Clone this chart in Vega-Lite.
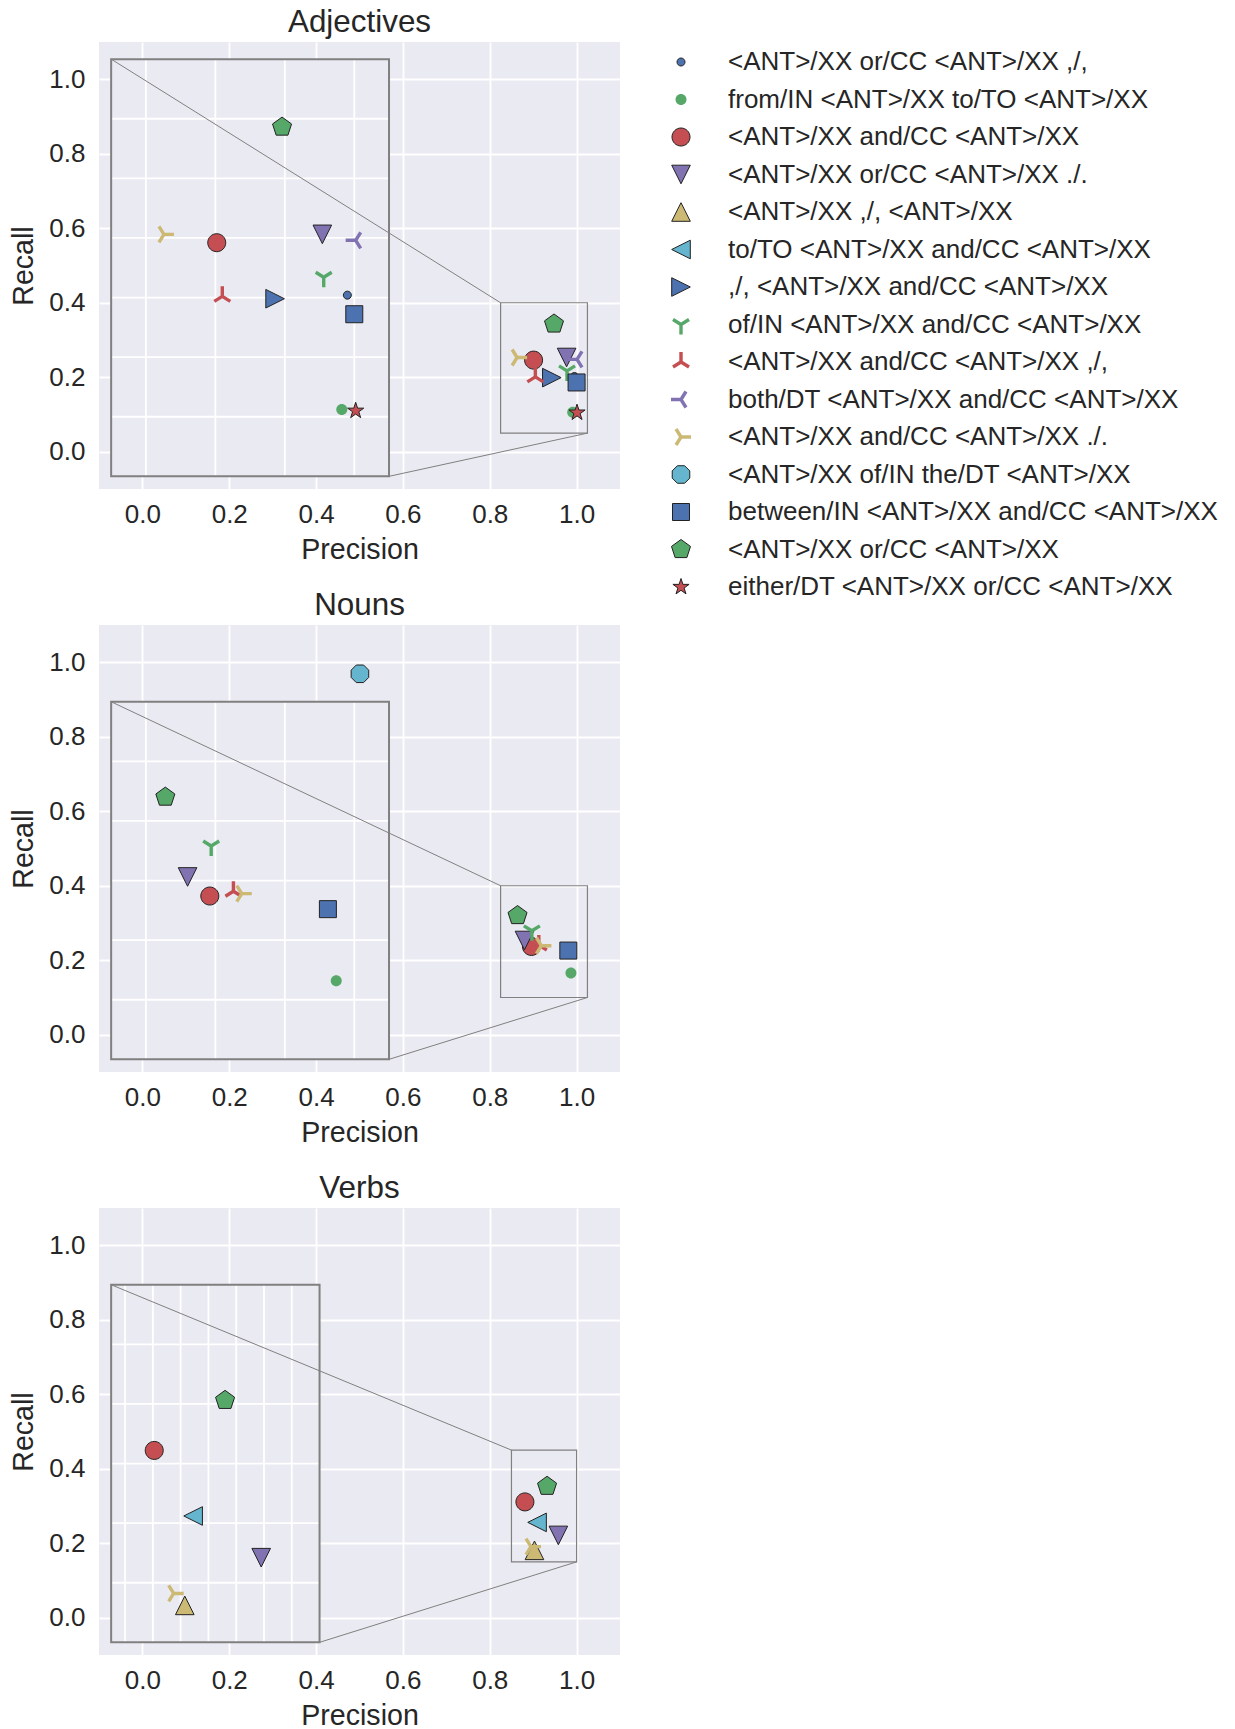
{
  "$schema": "https://vega.github.io/schema/vega-lite/v6.json",
  "padding": {"left": 9, "top": 6, "right": 5, "bottom": 5},
  "spacing": 25,
  "config": {
    "font": "Liberation Sans",
    "view": {"fill": "#EAEAF2", "stroke": null},
    "axis": {"labelFontSize": 26, "labelColor": "#262626", "titleFontSize": 28.6, "titleColor": "#262626", "titleFontWeight": "normal", "domain": false, "ticks": false, "gridColor": "#FFFFFF", "gridWidth": 1.8, "gridOpacity": 1, "labelFlush": false, "labelOverlap": false},
    "axisX": {"labelPadding": 12, "titlePadding": 8},
    "axisY": {"labelPadding": 14, "titlePadding": 10},
    "title": {"fontSize": 31.4, "fontWeight": "normal", "color": "#262626", "anchor": "middle", "offset": 4}
  },
  "datasets": {
    "adjectives": [
      {"series": "<ANT>/XX or/CC <ANT>/XX ,/,", "precision": 0.995, "recall": 0.202},
      {"series": "from/IN <ANT>/XX to/TO <ANT>/XX", "precision": 0.991, "recall": 0.106},
      {"series": "<ANT>/XX and/CC <ANT>/XX", "precision": 0.901, "recall": 0.246},
      {"series": "<ANT>/XX or/CC <ANT>/XX ./.", "precision": 0.977, "recall": 0.253},
      {"series": ",/, <ANT>/XX and/CC <ANT>/XX", "precision": 0.943, "recall": 0.199},
      {"series": "of/IN <ANT>/XX and/CC <ANT>/XX", "precision": 0.978, "recall": 0.217},
      {"series": "<ANT>/XX and/CC <ANT>/XX ,/,", "precision": 0.905, "recall": 0.201},
      {"series": "both/DT <ANT>/XX and/CC <ANT>/XX", "precision": 1.001, "recall": 0.248},
      {"series": "<ANT>/XX and/CC <ANT>/XX ./.", "precision": 0.863, "recall": 0.253},
      {"series": "between/IN <ANT>/XX and/CC <ANT>/XX", "precision": 1.0, "recall": 0.186},
      {"series": "<ANT>/XX or/CC <ANT>/XX", "precision": 0.948, "recall": 0.343},
      {"series": "either/DT <ANT>/XX or/CC <ANT>/XX", "precision": 1.001, "recall": 0.105}
    ],
    "nouns": [
      {"series": "from/IN <ANT>/XX to/TO <ANT>/XX", "precision": 0.987, "recall": 0.166},
      {"series": "<ANT>/XX and/CC <ANT>/XX", "precision": 0.896, "recall": 0.237},
      {"series": "<ANT>/XX or/CC <ANT>/XX ./.", "precision": 0.880, "recall": 0.253},
      {"series": "of/IN <ANT>/XX and/CC <ANT>/XX", "precision": 0.897, "recall": 0.279},
      {"series": "<ANT>/XX and/CC <ANT>/XX ,/,", "precision": 0.913, "recall": 0.241},
      {"series": "<ANT>/XX and/CC <ANT>/XX ./.", "precision": 0.919, "recall": 0.239},
      {"series": "<ANT>/XX of/IN the/DT <ANT>/XX", "precision": 0.501, "recall": 0.969},
      {"series": "between/IN <ANT>/XX and/CC <ANT>/XX", "precision": 0.981, "recall": 0.226},
      {"series": "<ANT>/XX or/CC <ANT>/XX", "precision": 0.864, "recall": 0.320}
    ],
    "verbs": [
      {"series": "<ANT>/XX and/CC <ANT>/XX", "precision": 0.881, "recall": 0.311},
      {"series": "<ANT>/XX or/CC <ANT>/XX ./.", "precision": 0.958, "recall": 0.221},
      {"series": "<ANT>/XX ,/, <ANT>/XX", "precision": 0.903, "recall": 0.181},
      {"series": "to/TO <ANT>/XX and/CC <ANT>/XX", "precision": 0.909, "recall": 0.256},
      {"series": "<ANT>/XX and/CC <ANT>/XX ./.", "precision": 0.895, "recall": 0.191},
      {"series": "<ANT>/XX or/CC <ANT>/XX", "precision": 0.932, "recall": 0.353}
    ]
  },
  "vconcat": [
    {
      "title": "Adjectives",
      "width": 521, "height": 447,
      "resolve": {"scale": {"x": "independent", "y": "independent"}},
      "layer": [
        {"data": {"name": "adjectives"},
         "mark": {"type": "point", "filled": true, "opacity": 1, "size": 400, "strokeWidth": 1},
         "encoding": {
           "x": {"field": "precision", "type": "quantitative", "scale": {"domain": [-0.1, 1.1], "nice": false, "zero": false}, "axis": {"title": "Precision", "values": [0, 0.2, 0.4, 0.6, 0.8, 1.0], "format": ".1f"}},
           "y": {"field": "recall", "type": "quantitative", "scale": {"domain": [-0.1, 1.1], "nice": false, "zero": false}, "axis": {"title": "Recall", "values": [0, 0.2, 0.4, 0.6, 0.8, 1.0], "format": ".1f"}},
           "shape": {"field": "series", "type": "nominal", "scale": {"domain": ["<ANT>/XX or/CC <ANT>/XX ,/,", "from/IN <ANT>/XX to/TO <ANT>/XX", "<ANT>/XX and/CC <ANT>/XX", "<ANT>/XX or/CC <ANT>/XX ./.", "<ANT>/XX ,/, <ANT>/XX", "to/TO <ANT>/XX and/CC <ANT>/XX", ",/, <ANT>/XX and/CC <ANT>/XX", "of/IN <ANT>/XX and/CC <ANT>/XX", "<ANT>/XX and/CC <ANT>/XX ,/,", "both/DT <ANT>/XX and/CC <ANT>/XX", "<ANT>/XX and/CC <ANT>/XX ./.", "<ANT>/XX of/IN the/DT <ANT>/XX", "between/IN <ANT>/XX and/CC <ANT>/XX", "<ANT>/XX or/CC <ANT>/XX", "either/DT <ANT>/XX or/CC <ANT>/XX"], "range": ["M0.4,0A0.4,0.4,0,1,1,-0.4,0A0.4,0.4,0,1,1,0.4,0Z", "M0.55,0A0.55,0.55,0,1,1,-0.55,0A0.55,0.55,0,1,1,0.55,0Z", "M0.9,0A0.9,0.9,0,1,1,-0.9,0A0.9,0.9,0,1,1,0.9,0Z", "M-0.93,-0.93L0.93,-0.93L0,0.93Z", "M0,-0.93L0.93,0.93L-0.93,0.93Z", "M-0.93,0L0.93,-0.93L0.93,0.93Z", "M0.93,0L-0.93,0.93L-0.93,-0.93Z", "M-0.17,-0.09L-0.17,1L0.17,1L0.17,-0.09ZM0.014,0.192L0.89,-0.356L0.71,-0.644L-0.166,-0.097ZM0.166,-0.097L-0.71,-0.644L-0.89,-0.356L-0.014,0.192Z", "M0.17,0.09L0.17,-1L-0.17,-1L-0.17,0.09ZM-0.014,-0.192L-0.89,0.356L-0.71,0.644L0.166,0.097ZM-0.166,0.097L0.71,0.644L0.89,0.356L0.014,-0.192Z", "M0.09,-0.17L-1,-0.17L-1,0.17L0.09,0.17ZM-0.192,0.014L0.356,0.89L0.644,0.71L0.097,-0.166ZM0.097,0.166L0.644,-0.71L0.356,-0.89L-0.192,-0.014Z", "M-0.09,0.17L1,0.17L1,-0.17L-0.09,-0.17ZM0.192,-0.014L-0.356,-0.89L-0.644,-0.71L-0.097,0.166ZM-0.097,-0.166L-0.644,0.71L-0.356,0.89L0.192,0.014Z", "M0.878,-0.364L0.364,-0.878L-0.364,-0.878L-0.878,-0.364L-0.878,0.364L-0.364,0.878L0.364,0.878L0.878,0.364Z", "M-0.85,-0.85L0.85,-0.85L0.85,0.85L-0.85,0.85Z", "M0,-1L0.951,-0.309L0.588,0.809L-0.588,0.809L-0.951,-0.309Z", "M0,-0.85L0.191,-0.263L0.808,-0.263L0.309,0.1L0.5,0.688L0,0.325L-0.5,0.688L-0.309,0.1L-0.808,-0.263L-0.191,-0.263Z"]}, "legend": {"title": null, "orient": "none", "legendX": 569, "legendY": 7, "labelFontSize": 26, "labelLimit": 700, "labelColor": "#262626", "labelFont": "Liberation Sans", "rowPadding": 11.5, "labelOffset": 34, "symbolSize": 400, "symbolStrokeWidth": 1, "padding": 0}},
           "fill": {"field": "series", "type": "nominal", "scale": {"domain": ["<ANT>/XX or/CC <ANT>/XX ,/,", "from/IN <ANT>/XX to/TO <ANT>/XX", "<ANT>/XX and/CC <ANT>/XX", "<ANT>/XX or/CC <ANT>/XX ./.", "<ANT>/XX ,/, <ANT>/XX", "to/TO <ANT>/XX and/CC <ANT>/XX", ",/, <ANT>/XX and/CC <ANT>/XX", "of/IN <ANT>/XX and/CC <ANT>/XX", "<ANT>/XX and/CC <ANT>/XX ,/,", "both/DT <ANT>/XX and/CC <ANT>/XX", "<ANT>/XX and/CC <ANT>/XX ./.", "<ANT>/XX of/IN the/DT <ANT>/XX", "between/IN <ANT>/XX and/CC <ANT>/XX", "<ANT>/XX or/CC <ANT>/XX", "either/DT <ANT>/XX or/CC <ANT>/XX"], "range": ["#4C72B0", "#55A868", "#C44E52", "#8172B2", "#CCB974", "#64B5CD", "#4C72B0", "#55A868", "#C44E52", "#8172B2", "#CCB974", "#64B5CD", "#4C72B0", "#55A868", "#C44E52"]}},
           "stroke": {"field": "series", "type": "nominal", "scale": {"domain": ["<ANT>/XX or/CC <ANT>/XX ,/,", "from/IN <ANT>/XX to/TO <ANT>/XX", "<ANT>/XX and/CC <ANT>/XX", "<ANT>/XX or/CC <ANT>/XX ./.", "<ANT>/XX ,/, <ANT>/XX", "to/TO <ANT>/XX and/CC <ANT>/XX", ",/, <ANT>/XX and/CC <ANT>/XX", "of/IN <ANT>/XX and/CC <ANT>/XX", "<ANT>/XX and/CC <ANT>/XX ,/,", "both/DT <ANT>/XX and/CC <ANT>/XX", "<ANT>/XX and/CC <ANT>/XX ./.", "<ANT>/XX of/IN the/DT <ANT>/XX", "between/IN <ANT>/XX and/CC <ANT>/XX", "<ANT>/XX or/CC <ANT>/XX", "either/DT <ANT>/XX or/CC <ANT>/XX"], "range": ["#222222", "transparent", "#222222", "#222222", "#222222", "#222222", "#222222", "transparent", "transparent", "transparent", "transparent", "#222222", "#222222", "#222222", "#222222"]}}
         }},
        {"data": {"values": [{"x0": 0.825, "x1": 1.025, "y0": 0.05, "y1": 0.40}]},
         "mark": {"type": "rect", "filled": false, "stroke": "#808080", "strokeWidth": 1.2},
         "encoding": {
           "x": {"field": "x0", "type": "quantitative", "scale": {"domain": [-0.1, 1.1], "nice": false, "zero": false}, "axis": null},
           "x2": {"field": "x1"},
           "y": {"field": "y0", "type": "quantitative", "scale": {"domain": [-0.1, 1.1], "nice": false, "zero": false}, "axis": null},
           "y2": {"field": "y1"}
         }},
        {"data": {"values": [{"x0": 0.825, "x1": 1.025, "y0": 0.05, "y1": 0.40}]},
         "mark": {"type": "rect", "fill": "#EAEAF2", "stroke": null},
         "encoding": {
           "x": {"field": "x0", "type": "quantitative", "scale": {"domain": [0.81625, 1.19125], "nice": false, "zero": false}, "axis": null},
           "x2": {"field": "x1"},
           "y": {"field": "y0", "type": "quantitative", "scale": {"domain": [0.039375, 0.414375], "nice": false, "zero": false}, "axis": null},
           "y2": {"field": "y1"}
         }},
        {"data": {"values": [{"v": 0.85}, {"v": 0.9}, {"v": 0.95}, {"v": 1.0}]},
         "mark": {"type": "rule", "color": "#FFFFFF", "strokeWidth": 1.8},
         "encoding": {
           "x": {"field": "v", "type": "quantitative", "scale": {"domain": [0.81625, 1.19125], "nice": false, "zero": false}, "axis": null},
           "y": {"datum": 0.05, "type": "quantitative", "scale": {"domain": [0.039375, 0.414375], "nice": false, "zero": false}, "axis": null},
           "y2": {"datum": 0.40}
         }},
        {"data": {"values": [{"v": 0.10}, {"v": 0.15}, {"v": 0.20}, {"v": 0.25}, {"v": 0.30}, {"v": 0.35}]},
         "mark": {"type": "rule", "color": "#FFFFFF", "strokeWidth": 1.8},
         "encoding": {
           "y": {"field": "v", "type": "quantitative", "scale": {"domain": [0.039375, 0.414375], "nice": false, "zero": false}, "axis": null},
           "x": {"datum": 0.825, "type": "quantitative", "scale": {"domain": [0.81625, 1.19125], "nice": false, "zero": false}, "axis": null},
           "x2": {"datum": 1.025}
         }},
        {"data": {"name": "adjectives"},
         "transform": [{"filter": {"and": [{"field": "precision", "range": [0.82, 1.03]}, {"field": "recall", "range": [0.04, 0.46]}]}}],
         "mark": {"type": "point", "filled": true, "opacity": 1, "size": 400, "strokeWidth": 1},
         "encoding": {
           "x": {"field": "precision", "type": "quantitative", "scale": {"domain": [0.81625, 1.19125], "nice": false, "zero": false}, "axis": null},
           "y": {"field": "recall", "type": "quantitative", "scale": {"domain": [0.039375, 0.414375], "nice": false, "zero": false}, "axis": null},
           "shape": {"field": "series", "type": "nominal", "scale": {"domain": ["<ANT>/XX or/CC <ANT>/XX ,/,", "from/IN <ANT>/XX to/TO <ANT>/XX", "<ANT>/XX and/CC <ANT>/XX", "<ANT>/XX or/CC <ANT>/XX ./.", "<ANT>/XX ,/, <ANT>/XX", "to/TO <ANT>/XX and/CC <ANT>/XX", ",/, <ANT>/XX and/CC <ANT>/XX", "of/IN <ANT>/XX and/CC <ANT>/XX", "<ANT>/XX and/CC <ANT>/XX ,/,", "both/DT <ANT>/XX and/CC <ANT>/XX", "<ANT>/XX and/CC <ANT>/XX ./.", "<ANT>/XX of/IN the/DT <ANT>/XX", "between/IN <ANT>/XX and/CC <ANT>/XX", "<ANT>/XX or/CC <ANT>/XX", "either/DT <ANT>/XX or/CC <ANT>/XX"], "range": ["M0.4,0A0.4,0.4,0,1,1,-0.4,0A0.4,0.4,0,1,1,0.4,0Z", "M0.55,0A0.55,0.55,0,1,1,-0.55,0A0.55,0.55,0,1,1,0.55,0Z", "M0.9,0A0.9,0.9,0,1,1,-0.9,0A0.9,0.9,0,1,1,0.9,0Z", "M-0.93,-0.93L0.93,-0.93L0,0.93Z", "M0,-0.93L0.93,0.93L-0.93,0.93Z", "M-0.93,0L0.93,-0.93L0.93,0.93Z", "M0.93,0L-0.93,0.93L-0.93,-0.93Z", "M-0.17,-0.09L-0.17,1L0.17,1L0.17,-0.09ZM0.014,0.192L0.89,-0.356L0.71,-0.644L-0.166,-0.097ZM0.166,-0.097L-0.71,-0.644L-0.89,-0.356L-0.014,0.192Z", "M0.17,0.09L0.17,-1L-0.17,-1L-0.17,0.09ZM-0.014,-0.192L-0.89,0.356L-0.71,0.644L0.166,0.097ZM-0.166,0.097L0.71,0.644L0.89,0.356L0.014,-0.192Z", "M0.09,-0.17L-1,-0.17L-1,0.17L0.09,0.17ZM-0.192,0.014L0.356,0.89L0.644,0.71L0.097,-0.166ZM0.097,0.166L0.644,-0.71L0.356,-0.89L-0.192,-0.014Z", "M-0.09,0.17L1,0.17L1,-0.17L-0.09,-0.17ZM0.192,-0.014L-0.356,-0.89L-0.644,-0.71L-0.097,0.166ZM-0.097,-0.166L-0.644,0.71L-0.356,0.89L0.192,0.014Z", "M0.878,-0.364L0.364,-0.878L-0.364,-0.878L-0.878,-0.364L-0.878,0.364L-0.364,0.878L0.364,0.878L0.878,0.364Z", "M-0.85,-0.85L0.85,-0.85L0.85,0.85L-0.85,0.85Z", "M0,-1L0.951,-0.309L0.588,0.809L-0.588,0.809L-0.951,-0.309Z", "M0,-0.85L0.191,-0.263L0.808,-0.263L0.309,0.1L0.5,0.688L0,0.325L-0.5,0.688L-0.309,0.1L-0.808,-0.263L-0.191,-0.263Z"]}},
           "fill": {"field": "series", "type": "nominal", "scale": {"domain": ["<ANT>/XX or/CC <ANT>/XX ,/,", "from/IN <ANT>/XX to/TO <ANT>/XX", "<ANT>/XX and/CC <ANT>/XX", "<ANT>/XX or/CC <ANT>/XX ./.", "<ANT>/XX ,/, <ANT>/XX", "to/TO <ANT>/XX and/CC <ANT>/XX", ",/, <ANT>/XX and/CC <ANT>/XX", "of/IN <ANT>/XX and/CC <ANT>/XX", "<ANT>/XX and/CC <ANT>/XX ,/,", "both/DT <ANT>/XX and/CC <ANT>/XX", "<ANT>/XX and/CC <ANT>/XX ./.", "<ANT>/XX of/IN the/DT <ANT>/XX", "between/IN <ANT>/XX and/CC <ANT>/XX", "<ANT>/XX or/CC <ANT>/XX", "either/DT <ANT>/XX or/CC <ANT>/XX"], "range": ["#4C72B0", "#55A868", "#C44E52", "#8172B2", "#CCB974", "#64B5CD", "#4C72B0", "#55A868", "#C44E52", "#8172B2", "#CCB974", "#64B5CD", "#4C72B0", "#55A868", "#C44E52"]}},
           "stroke": {"field": "series", "type": "nominal", "scale": {"domain": ["<ANT>/XX or/CC <ANT>/XX ,/,", "from/IN <ANT>/XX to/TO <ANT>/XX", "<ANT>/XX and/CC <ANT>/XX", "<ANT>/XX or/CC <ANT>/XX ./.", "<ANT>/XX ,/, <ANT>/XX", "to/TO <ANT>/XX and/CC <ANT>/XX", ",/, <ANT>/XX and/CC <ANT>/XX", "of/IN <ANT>/XX and/CC <ANT>/XX", "<ANT>/XX and/CC <ANT>/XX ,/,", "both/DT <ANT>/XX and/CC <ANT>/XX", "<ANT>/XX and/CC <ANT>/XX ./.", "<ANT>/XX of/IN the/DT <ANT>/XX", "between/IN <ANT>/XX and/CC <ANT>/XX", "<ANT>/XX or/CC <ANT>/XX", "either/DT <ANT>/XX or/CC <ANT>/XX"], "range": ["#222222", "transparent", "#222222", "#222222", "#222222", "#222222", "#222222", "transparent", "transparent", "transparent", "transparent", "#222222", "#222222", "#222222", "#222222"]}}
         }},
        {"data": {"values": [{"x0": 0.825, "x1": 1.025, "y0": 0.05, "y1": 0.40}]},
         "mark": {"type": "rect", "filled": false, "stroke": "#808080", "strokeWidth": 2},
         "encoding": {
           "x": {"field": "x0", "type": "quantitative", "scale": {"domain": [0.81625, 1.19125], "nice": false, "zero": false}, "axis": null},
           "x2": {"field": "x1"},
           "y": {"field": "y0", "type": "quantitative", "scale": {"domain": [0.039375, 0.414375], "nice": false, "zero": false}, "axis": null},
           "y2": {"field": "y1"}
         }},
        {"data": {"values": [{"x": -0.072, "y": 1.054, "x2": 0.825, "y2": 0.40}, {"x": 0.568, "y": -0.066, "x2": 1.025, "y2": 0.05}]},
         "mark": {"type": "rule", "color": "#808080", "strokeWidth": 1},
         "encoding": {
           "x": {"field": "x", "type": "quantitative", "scale": {"domain": [-0.1, 1.1], "nice": false, "zero": false}, "axis": null},
           "y": {"field": "y", "type": "quantitative", "scale": {"domain": [-0.1, 1.1], "nice": false, "zero": false}, "axis": null},
           "x2": {"field": "x2"},
           "y2": {"field": "y2"}
         }}
      ]
    },
    {
      "title": "Nouns",
      "width": 521, "height": 447,
      "resolve": {"scale": {"x": "independent", "y": "independent"}},
      "layer": [
        {"data": {"name": "nouns"},
         "mark": {"type": "point", "filled": true, "opacity": 1, "size": 400, "strokeWidth": 1},
         "encoding": {
           "x": {"field": "precision", "type": "quantitative", "scale": {"domain": [-0.1, 1.1], "nice": false, "zero": false}, "axis": {"title": "Precision", "values": [0, 0.2, 0.4, 0.6, 0.8, 1.0], "format": ".1f"}},
           "y": {"field": "recall", "type": "quantitative", "scale": {"domain": [-0.1, 1.1], "nice": false, "zero": false}, "axis": {"title": "Recall", "values": [0, 0.2, 0.4, 0.6, 0.8, 1.0], "format": ".1f"}},
           "shape": {"field": "series", "type": "nominal", "scale": {"domain": ["<ANT>/XX or/CC <ANT>/XX ,/,", "from/IN <ANT>/XX to/TO <ANT>/XX", "<ANT>/XX and/CC <ANT>/XX", "<ANT>/XX or/CC <ANT>/XX ./.", "<ANT>/XX ,/, <ANT>/XX", "to/TO <ANT>/XX and/CC <ANT>/XX", ",/, <ANT>/XX and/CC <ANT>/XX", "of/IN <ANT>/XX and/CC <ANT>/XX", "<ANT>/XX and/CC <ANT>/XX ,/,", "both/DT <ANT>/XX and/CC <ANT>/XX", "<ANT>/XX and/CC <ANT>/XX ./.", "<ANT>/XX of/IN the/DT <ANT>/XX", "between/IN <ANT>/XX and/CC <ANT>/XX", "<ANT>/XX or/CC <ANT>/XX", "either/DT <ANT>/XX or/CC <ANT>/XX"], "range": ["M0.4,0A0.4,0.4,0,1,1,-0.4,0A0.4,0.4,0,1,1,0.4,0Z", "M0.55,0A0.55,0.55,0,1,1,-0.55,0A0.55,0.55,0,1,1,0.55,0Z", "M0.9,0A0.9,0.9,0,1,1,-0.9,0A0.9,0.9,0,1,1,0.9,0Z", "M-0.93,-0.93L0.93,-0.93L0,0.93Z", "M0,-0.93L0.93,0.93L-0.93,0.93Z", "M-0.93,0L0.93,-0.93L0.93,0.93Z", "M0.93,0L-0.93,0.93L-0.93,-0.93Z", "M-0.17,-0.09L-0.17,1L0.17,1L0.17,-0.09ZM0.014,0.192L0.89,-0.356L0.71,-0.644L-0.166,-0.097ZM0.166,-0.097L-0.71,-0.644L-0.89,-0.356L-0.014,0.192Z", "M0.17,0.09L0.17,-1L-0.17,-1L-0.17,0.09ZM-0.014,-0.192L-0.89,0.356L-0.71,0.644L0.166,0.097ZM-0.166,0.097L0.71,0.644L0.89,0.356L0.014,-0.192Z", "M0.09,-0.17L-1,-0.17L-1,0.17L0.09,0.17ZM-0.192,0.014L0.356,0.89L0.644,0.71L0.097,-0.166ZM0.097,0.166L0.644,-0.71L0.356,-0.89L-0.192,-0.014Z", "M-0.09,0.17L1,0.17L1,-0.17L-0.09,-0.17ZM0.192,-0.014L-0.356,-0.89L-0.644,-0.71L-0.097,0.166ZM-0.097,-0.166L-0.644,0.71L-0.356,0.89L0.192,0.014Z", "M0.878,-0.364L0.364,-0.878L-0.364,-0.878L-0.878,-0.364L-0.878,0.364L-0.364,0.878L0.364,0.878L0.878,0.364Z", "M-0.85,-0.85L0.85,-0.85L0.85,0.85L-0.85,0.85Z", "M0,-1L0.951,-0.309L0.588,0.809L-0.588,0.809L-0.951,-0.309Z", "M0,-0.85L0.191,-0.263L0.808,-0.263L0.309,0.1L0.5,0.688L0,0.325L-0.5,0.688L-0.309,0.1L-0.808,-0.263L-0.191,-0.263Z"]}},
           "fill": {"field": "series", "type": "nominal", "scale": {"domain": ["<ANT>/XX or/CC <ANT>/XX ,/,", "from/IN <ANT>/XX to/TO <ANT>/XX", "<ANT>/XX and/CC <ANT>/XX", "<ANT>/XX or/CC <ANT>/XX ./.", "<ANT>/XX ,/, <ANT>/XX", "to/TO <ANT>/XX and/CC <ANT>/XX", ",/, <ANT>/XX and/CC <ANT>/XX", "of/IN <ANT>/XX and/CC <ANT>/XX", "<ANT>/XX and/CC <ANT>/XX ,/,", "both/DT <ANT>/XX and/CC <ANT>/XX", "<ANT>/XX and/CC <ANT>/XX ./.", "<ANT>/XX of/IN the/DT <ANT>/XX", "between/IN <ANT>/XX and/CC <ANT>/XX", "<ANT>/XX or/CC <ANT>/XX", "either/DT <ANT>/XX or/CC <ANT>/XX"], "range": ["#4C72B0", "#55A868", "#C44E52", "#8172B2", "#CCB974", "#64B5CD", "#4C72B0", "#55A868", "#C44E52", "#8172B2", "#CCB974", "#64B5CD", "#4C72B0", "#55A868", "#C44E52"]}},
           "stroke": {"field": "series", "type": "nominal", "scale": {"domain": ["<ANT>/XX or/CC <ANT>/XX ,/,", "from/IN <ANT>/XX to/TO <ANT>/XX", "<ANT>/XX and/CC <ANT>/XX", "<ANT>/XX or/CC <ANT>/XX ./.", "<ANT>/XX ,/, <ANT>/XX", "to/TO <ANT>/XX and/CC <ANT>/XX", ",/, <ANT>/XX and/CC <ANT>/XX", "of/IN <ANT>/XX and/CC <ANT>/XX", "<ANT>/XX and/CC <ANT>/XX ,/,", "both/DT <ANT>/XX and/CC <ANT>/XX", "<ANT>/XX and/CC <ANT>/XX ./.", "<ANT>/XX of/IN the/DT <ANT>/XX", "between/IN <ANT>/XX and/CC <ANT>/XX", "<ANT>/XX or/CC <ANT>/XX", "either/DT <ANT>/XX or/CC <ANT>/XX"], "range": ["#222222", "transparent", "#222222", "#222222", "#222222", "#222222", "#222222", "transparent", "transparent", "transparent", "transparent", "#222222", "#222222", "#222222", "#222222"]}}
         }},
        {"data": {"values": [{"x0": 0.825, "x1": 1.025, "y0": 0.10, "y1": 0.40}]},
         "mark": {"type": "rect", "filled": false, "stroke": "#808080", "strokeWidth": 1.2},
         "encoding": {
           "x": {"field": "x0", "type": "quantitative", "scale": {"domain": [-0.1, 1.1], "nice": false, "zero": false}, "axis": null},
           "x2": {"field": "x1"},
           "y": {"field": "y0", "type": "quantitative", "scale": {"domain": [-0.1, 1.1], "nice": false, "zero": false}, "axis": null},
           "y2": {"field": "y1"}
         }},
        {"data": {"values": [{"x0": 0.825, "x1": 1.025, "y0": 0.10, "y1": 0.40}]},
         "mark": {"type": "rect", "fill": "#EAEAF2", "stroke": null},
         "encoding": {
           "x": {"field": "x0", "type": "quantitative", "scale": {"domain": [0.81625, 1.19125], "nice": false, "zero": false}, "axis": null},
           "x2": {"field": "x1"},
           "y": {"field": "y0", "type": "quantitative", "scale": {"domain": [0.089375, 0.464375], "nice": false, "zero": false}, "axis": null},
           "y2": {"field": "y1"}
         }},
        {"data": {"values": [{"v": 0.85}, {"v": 0.9}, {"v": 0.95}, {"v": 1.0}]},
         "mark": {"type": "rule", "color": "#FFFFFF", "strokeWidth": 1.8},
         "encoding": {
           "x": {"field": "v", "type": "quantitative", "scale": {"domain": [0.81625, 1.19125], "nice": false, "zero": false}, "axis": null},
           "y": {"datum": 0.10, "type": "quantitative", "scale": {"domain": [0.089375, 0.464375], "nice": false, "zero": false}, "axis": null},
           "y2": {"datum": 0.40}
         }},
        {"data": {"values": [{"v": 0.15}, {"v": 0.20}, {"v": 0.25}, {"v": 0.30}, {"v": 0.35}]},
         "mark": {"type": "rule", "color": "#FFFFFF", "strokeWidth": 1.8},
         "encoding": {
           "y": {"field": "v", "type": "quantitative", "scale": {"domain": [0.089375, 0.464375], "nice": false, "zero": false}, "axis": null},
           "x": {"datum": 0.825, "type": "quantitative", "scale": {"domain": [0.81625, 1.19125], "nice": false, "zero": false}, "axis": null},
           "x2": {"datum": 1.025}
         }},
        {"data": {"name": "nouns"},
         "transform": [{"filter": {"and": [{"field": "precision", "range": [0.82, 1.03]}, {"field": "recall", "range": [0.09, 0.46]}]}}],
         "mark": {"type": "point", "filled": true, "opacity": 1, "size": 400, "strokeWidth": 1},
         "encoding": {
           "x": {"field": "precision", "type": "quantitative", "scale": {"domain": [0.81625, 1.19125], "nice": false, "zero": false}, "axis": null},
           "y": {"field": "recall", "type": "quantitative", "scale": {"domain": [0.089375, 0.464375], "nice": false, "zero": false}, "axis": null},
           "shape": {"field": "series", "type": "nominal", "scale": {"domain": ["<ANT>/XX or/CC <ANT>/XX ,/,", "from/IN <ANT>/XX to/TO <ANT>/XX", "<ANT>/XX and/CC <ANT>/XX", "<ANT>/XX or/CC <ANT>/XX ./.", "<ANT>/XX ,/, <ANT>/XX", "to/TO <ANT>/XX and/CC <ANT>/XX", ",/, <ANT>/XX and/CC <ANT>/XX", "of/IN <ANT>/XX and/CC <ANT>/XX", "<ANT>/XX and/CC <ANT>/XX ,/,", "both/DT <ANT>/XX and/CC <ANT>/XX", "<ANT>/XX and/CC <ANT>/XX ./.", "<ANT>/XX of/IN the/DT <ANT>/XX", "between/IN <ANT>/XX and/CC <ANT>/XX", "<ANT>/XX or/CC <ANT>/XX", "either/DT <ANT>/XX or/CC <ANT>/XX"], "range": ["M0.4,0A0.4,0.4,0,1,1,-0.4,0A0.4,0.4,0,1,1,0.4,0Z", "M0.55,0A0.55,0.55,0,1,1,-0.55,0A0.55,0.55,0,1,1,0.55,0Z", "M0.9,0A0.9,0.9,0,1,1,-0.9,0A0.9,0.9,0,1,1,0.9,0Z", "M-0.93,-0.93L0.93,-0.93L0,0.93Z", "M0,-0.93L0.93,0.93L-0.93,0.93Z", "M-0.93,0L0.93,-0.93L0.93,0.93Z", "M0.93,0L-0.93,0.93L-0.93,-0.93Z", "M-0.17,-0.09L-0.17,1L0.17,1L0.17,-0.09ZM0.014,0.192L0.89,-0.356L0.71,-0.644L-0.166,-0.097ZM0.166,-0.097L-0.71,-0.644L-0.89,-0.356L-0.014,0.192Z", "M0.17,0.09L0.17,-1L-0.17,-1L-0.17,0.09ZM-0.014,-0.192L-0.89,0.356L-0.71,0.644L0.166,0.097ZM-0.166,0.097L0.71,0.644L0.89,0.356L0.014,-0.192Z", "M0.09,-0.17L-1,-0.17L-1,0.17L0.09,0.17ZM-0.192,0.014L0.356,0.89L0.644,0.71L0.097,-0.166ZM0.097,0.166L0.644,-0.71L0.356,-0.89L-0.192,-0.014Z", "M-0.09,0.17L1,0.17L1,-0.17L-0.09,-0.17ZM0.192,-0.014L-0.356,-0.89L-0.644,-0.71L-0.097,0.166ZM-0.097,-0.166L-0.644,0.71L-0.356,0.89L0.192,0.014Z", "M0.878,-0.364L0.364,-0.878L-0.364,-0.878L-0.878,-0.364L-0.878,0.364L-0.364,0.878L0.364,0.878L0.878,0.364Z", "M-0.85,-0.85L0.85,-0.85L0.85,0.85L-0.85,0.85Z", "M0,-1L0.951,-0.309L0.588,0.809L-0.588,0.809L-0.951,-0.309Z", "M0,-0.85L0.191,-0.263L0.808,-0.263L0.309,0.1L0.5,0.688L0,0.325L-0.5,0.688L-0.309,0.1L-0.808,-0.263L-0.191,-0.263Z"]}},
           "fill": {"field": "series", "type": "nominal", "scale": {"domain": ["<ANT>/XX or/CC <ANT>/XX ,/,", "from/IN <ANT>/XX to/TO <ANT>/XX", "<ANT>/XX and/CC <ANT>/XX", "<ANT>/XX or/CC <ANT>/XX ./.", "<ANT>/XX ,/, <ANT>/XX", "to/TO <ANT>/XX and/CC <ANT>/XX", ",/, <ANT>/XX and/CC <ANT>/XX", "of/IN <ANT>/XX and/CC <ANT>/XX", "<ANT>/XX and/CC <ANT>/XX ,/,", "both/DT <ANT>/XX and/CC <ANT>/XX", "<ANT>/XX and/CC <ANT>/XX ./.", "<ANT>/XX of/IN the/DT <ANT>/XX", "between/IN <ANT>/XX and/CC <ANT>/XX", "<ANT>/XX or/CC <ANT>/XX", "either/DT <ANT>/XX or/CC <ANT>/XX"], "range": ["#4C72B0", "#55A868", "#C44E52", "#8172B2", "#CCB974", "#64B5CD", "#4C72B0", "#55A868", "#C44E52", "#8172B2", "#CCB974", "#64B5CD", "#4C72B0", "#55A868", "#C44E52"]}},
           "stroke": {"field": "series", "type": "nominal", "scale": {"domain": ["<ANT>/XX or/CC <ANT>/XX ,/,", "from/IN <ANT>/XX to/TO <ANT>/XX", "<ANT>/XX and/CC <ANT>/XX", "<ANT>/XX or/CC <ANT>/XX ./.", "<ANT>/XX ,/, <ANT>/XX", "to/TO <ANT>/XX and/CC <ANT>/XX", ",/, <ANT>/XX and/CC <ANT>/XX", "of/IN <ANT>/XX and/CC <ANT>/XX", "<ANT>/XX and/CC <ANT>/XX ,/,", "both/DT <ANT>/XX and/CC <ANT>/XX", "<ANT>/XX and/CC <ANT>/XX ./.", "<ANT>/XX of/IN the/DT <ANT>/XX", "between/IN <ANT>/XX and/CC <ANT>/XX", "<ANT>/XX or/CC <ANT>/XX", "either/DT <ANT>/XX or/CC <ANT>/XX"], "range": ["#222222", "transparent", "#222222", "#222222", "#222222", "#222222", "#222222", "transparent", "transparent", "transparent", "transparent", "#222222", "#222222", "#222222", "#222222"]}}
         }},
        {"data": {"values": [{"x0": 0.825, "x1": 1.025, "y0": 0.10, "y1": 0.40}]},
         "mark": {"type": "rect", "filled": false, "stroke": "#808080", "strokeWidth": 2},
         "encoding": {
           "x": {"field": "x0", "type": "quantitative", "scale": {"domain": [0.81625, 1.19125], "nice": false, "zero": false}, "axis": null},
           "x2": {"field": "x1"},
           "y": {"field": "y0", "type": "quantitative", "scale": {"domain": [0.089375, 0.464375], "nice": false, "zero": false}, "axis": null},
           "y2": {"field": "y1"}
         }},
        {"data": {"values": [{"x": -0.072, "y": 0.894, "x2": 0.825, "y2": 0.40}, {"x": 0.568, "y": -0.066, "x2": 1.025, "y2": 0.10}]},
         "mark": {"type": "rule", "color": "#808080", "strokeWidth": 1},
         "encoding": {
           "x": {"field": "x", "type": "quantitative", "scale": {"domain": [-0.1, 1.1], "nice": false, "zero": false}, "axis": null},
           "y": {"field": "y", "type": "quantitative", "scale": {"domain": [-0.1, 1.1], "nice": false, "zero": false}, "axis": null},
           "x2": {"field": "x2"},
           "y2": {"field": "y2"}
         }}
      ]
    },
    {
      "title": "Verbs",
      "width": 521, "height": 447,
      "resolve": {"scale": {"x": "independent", "y": "independent"}},
      "layer": [
        {"data": {"name": "verbs"},
         "mark": {"type": "point", "filled": true, "opacity": 1, "size": 400, "strokeWidth": 1},
         "encoding": {
           "x": {"field": "precision", "type": "quantitative", "scale": {"domain": [-0.1, 1.1], "nice": false, "zero": false}, "axis": {"title": "Precision", "values": [0, 0.2, 0.4, 0.6, 0.8, 1.0], "format": ".1f"}},
           "y": {"field": "recall", "type": "quantitative", "scale": {"domain": [-0.1, 1.1], "nice": false, "zero": false}, "axis": {"title": "Recall", "values": [0, 0.2, 0.4, 0.6, 0.8, 1.0], "format": ".1f"}},
           "shape": {"field": "series", "type": "nominal", "scale": {"domain": ["<ANT>/XX or/CC <ANT>/XX ,/,", "from/IN <ANT>/XX to/TO <ANT>/XX", "<ANT>/XX and/CC <ANT>/XX", "<ANT>/XX or/CC <ANT>/XX ./.", "<ANT>/XX ,/, <ANT>/XX", "to/TO <ANT>/XX and/CC <ANT>/XX", ",/, <ANT>/XX and/CC <ANT>/XX", "of/IN <ANT>/XX and/CC <ANT>/XX", "<ANT>/XX and/CC <ANT>/XX ,/,", "both/DT <ANT>/XX and/CC <ANT>/XX", "<ANT>/XX and/CC <ANT>/XX ./.", "<ANT>/XX of/IN the/DT <ANT>/XX", "between/IN <ANT>/XX and/CC <ANT>/XX", "<ANT>/XX or/CC <ANT>/XX", "either/DT <ANT>/XX or/CC <ANT>/XX"], "range": ["M0.4,0A0.4,0.4,0,1,1,-0.4,0A0.4,0.4,0,1,1,0.4,0Z", "M0.55,0A0.55,0.55,0,1,1,-0.55,0A0.55,0.55,0,1,1,0.55,0Z", "M0.9,0A0.9,0.9,0,1,1,-0.9,0A0.9,0.9,0,1,1,0.9,0Z", "M-0.93,-0.93L0.93,-0.93L0,0.93Z", "M0,-0.93L0.93,0.93L-0.93,0.93Z", "M-0.93,0L0.93,-0.93L0.93,0.93Z", "M0.93,0L-0.93,0.93L-0.93,-0.93Z", "M-0.17,-0.09L-0.17,1L0.17,1L0.17,-0.09ZM0.014,0.192L0.89,-0.356L0.71,-0.644L-0.166,-0.097ZM0.166,-0.097L-0.71,-0.644L-0.89,-0.356L-0.014,0.192Z", "M0.17,0.09L0.17,-1L-0.17,-1L-0.17,0.09ZM-0.014,-0.192L-0.89,0.356L-0.71,0.644L0.166,0.097ZM-0.166,0.097L0.71,0.644L0.89,0.356L0.014,-0.192Z", "M0.09,-0.17L-1,-0.17L-1,0.17L0.09,0.17ZM-0.192,0.014L0.356,0.89L0.644,0.71L0.097,-0.166ZM0.097,0.166L0.644,-0.71L0.356,-0.89L-0.192,-0.014Z", "M-0.09,0.17L1,0.17L1,-0.17L-0.09,-0.17ZM0.192,-0.014L-0.356,-0.89L-0.644,-0.71L-0.097,0.166ZM-0.097,-0.166L-0.644,0.71L-0.356,0.89L0.192,0.014Z", "M0.878,-0.364L0.364,-0.878L-0.364,-0.878L-0.878,-0.364L-0.878,0.364L-0.364,0.878L0.364,0.878L0.878,0.364Z", "M-0.85,-0.85L0.85,-0.85L0.85,0.85L-0.85,0.85Z", "M0,-1L0.951,-0.309L0.588,0.809L-0.588,0.809L-0.951,-0.309Z", "M0,-0.85L0.191,-0.263L0.808,-0.263L0.309,0.1L0.5,0.688L0,0.325L-0.5,0.688L-0.309,0.1L-0.808,-0.263L-0.191,-0.263Z"]}},
           "fill": {"field": "series", "type": "nominal", "scale": {"domain": ["<ANT>/XX or/CC <ANT>/XX ,/,", "from/IN <ANT>/XX to/TO <ANT>/XX", "<ANT>/XX and/CC <ANT>/XX", "<ANT>/XX or/CC <ANT>/XX ./.", "<ANT>/XX ,/, <ANT>/XX", "to/TO <ANT>/XX and/CC <ANT>/XX", ",/, <ANT>/XX and/CC <ANT>/XX", "of/IN <ANT>/XX and/CC <ANT>/XX", "<ANT>/XX and/CC <ANT>/XX ,/,", "both/DT <ANT>/XX and/CC <ANT>/XX", "<ANT>/XX and/CC <ANT>/XX ./.", "<ANT>/XX of/IN the/DT <ANT>/XX", "between/IN <ANT>/XX and/CC <ANT>/XX", "<ANT>/XX or/CC <ANT>/XX", "either/DT <ANT>/XX or/CC <ANT>/XX"], "range": ["#4C72B0", "#55A868", "#C44E52", "#8172B2", "#CCB974", "#64B5CD", "#4C72B0", "#55A868", "#C44E52", "#8172B2", "#CCB974", "#64B5CD", "#4C72B0", "#55A868", "#C44E52"]}},
           "stroke": {"field": "series", "type": "nominal", "scale": {"domain": ["<ANT>/XX or/CC <ANT>/XX ,/,", "from/IN <ANT>/XX to/TO <ANT>/XX", "<ANT>/XX and/CC <ANT>/XX", "<ANT>/XX or/CC <ANT>/XX ./.", "<ANT>/XX ,/, <ANT>/XX", "to/TO <ANT>/XX and/CC <ANT>/XX", ",/, <ANT>/XX and/CC <ANT>/XX", "of/IN <ANT>/XX and/CC <ANT>/XX", "<ANT>/XX and/CC <ANT>/XX ,/,", "both/DT <ANT>/XX and/CC <ANT>/XX", "<ANT>/XX and/CC <ANT>/XX ./.", "<ANT>/XX of/IN the/DT <ANT>/XX", "between/IN <ANT>/XX and/CC <ANT>/XX", "<ANT>/XX or/CC <ANT>/XX", "either/DT <ANT>/XX or/CC <ANT>/XX"], "range": ["#222222", "transparent", "#222222", "#222222", "#222222", "#222222", "#222222", "transparent", "transparent", "transparent", "transparent", "#222222", "#222222", "#222222", "#222222"]}}
         }},
        {"data": {"values": [{"x0": 0.85, "x1": 1.0, "y0": 0.15, "y1": 0.45}]},
         "mark": {"type": "rect", "filled": false, "stroke": "#808080", "strokeWidth": 1.2},
         "encoding": {
           "x": {"field": "x0", "type": "quantitative", "scale": {"domain": [-0.1, 1.1], "nice": false, "zero": false}, "axis": null},
           "x2": {"field": "x1"},
           "y": {"field": "y0", "type": "quantitative", "scale": {"domain": [-0.1, 1.1], "nice": false, "zero": false}, "axis": null},
           "y2": {"field": "y1"}
         }},
        {"data": {"values": [{"x0": 0.85, "x1": 1.0, "y0": 0.15, "y1": 0.45}]},
         "mark": {"type": "rect", "fill": "#EAEAF2", "stroke": null},
         "encoding": {
           "x": {"field": "x0", "type": "quantitative", "scale": {"domain": [0.84125, 1.21625], "nice": false, "zero": false}, "axis": null},
           "x2": {"field": "x1"},
           "y": {"field": "y0", "type": "quantitative", "scale": {"domain": [0.139375, 0.514375], "nice": false, "zero": false}, "axis": null},
           "y2": {"field": "y1"}
         }},
        {"data": {"values": [{"v": 0.86}, {"v": 0.88}, {"v": 0.90}, {"v": 0.92}, {"v": 0.94}, {"v": 0.96}, {"v": 0.98}]},
         "mark": {"type": "rule", "color": "#FFFFFF", "strokeWidth": 1.8},
         "encoding": {
           "x": {"field": "v", "type": "quantitative", "scale": {"domain": [0.84125, 1.21625], "nice": false, "zero": false}, "axis": null},
           "y": {"datum": 0.15, "type": "quantitative", "scale": {"domain": [0.139375, 0.514375], "nice": false, "zero": false}, "axis": null},
           "y2": {"datum": 0.45}
         }},
        {"data": {"values": [{"v": 0.20}, {"v": 0.25}, {"v": 0.30}, {"v": 0.35}, {"v": 0.40}]},
         "mark": {"type": "rule", "color": "#FFFFFF", "strokeWidth": 1.8},
         "encoding": {
           "y": {"field": "v", "type": "quantitative", "scale": {"domain": [0.139375, 0.514375], "nice": false, "zero": false}, "axis": null},
           "x": {"datum": 0.85, "type": "quantitative", "scale": {"domain": [0.84125, 1.21625], "nice": false, "zero": false}, "axis": null},
           "x2": {"datum": 1.0}
         }},
        {"data": {"name": "verbs"},
         "transform": [{"filter": {"and": [{"field": "precision", "range": [0.84, 1.01]}, {"field": "recall", "range": [0.14, 0.46]}]}}],
         "mark": {"type": "point", "filled": true, "opacity": 1, "size": 400, "strokeWidth": 1},
         "encoding": {
           "x": {"field": "precision", "type": "quantitative", "scale": {"domain": [0.84125, 1.21625], "nice": false, "zero": false}, "axis": null},
           "y": {"field": "recall", "type": "quantitative", "scale": {"domain": [0.139375, 0.514375], "nice": false, "zero": false}, "axis": null},
           "shape": {"field": "series", "type": "nominal", "scale": {"domain": ["<ANT>/XX or/CC <ANT>/XX ,/,", "from/IN <ANT>/XX to/TO <ANT>/XX", "<ANT>/XX and/CC <ANT>/XX", "<ANT>/XX or/CC <ANT>/XX ./.", "<ANT>/XX ,/, <ANT>/XX", "to/TO <ANT>/XX and/CC <ANT>/XX", ",/, <ANT>/XX and/CC <ANT>/XX", "of/IN <ANT>/XX and/CC <ANT>/XX", "<ANT>/XX and/CC <ANT>/XX ,/,", "both/DT <ANT>/XX and/CC <ANT>/XX", "<ANT>/XX and/CC <ANT>/XX ./.", "<ANT>/XX of/IN the/DT <ANT>/XX", "between/IN <ANT>/XX and/CC <ANT>/XX", "<ANT>/XX or/CC <ANT>/XX", "either/DT <ANT>/XX or/CC <ANT>/XX"], "range": ["M0.4,0A0.4,0.4,0,1,1,-0.4,0A0.4,0.4,0,1,1,0.4,0Z", "M0.55,0A0.55,0.55,0,1,1,-0.55,0A0.55,0.55,0,1,1,0.55,0Z", "M0.9,0A0.9,0.9,0,1,1,-0.9,0A0.9,0.9,0,1,1,0.9,0Z", "M-0.93,-0.93L0.93,-0.93L0,0.93Z", "M0,-0.93L0.93,0.93L-0.93,0.93Z", "M-0.93,0L0.93,-0.93L0.93,0.93Z", "M0.93,0L-0.93,0.93L-0.93,-0.93Z", "M-0.17,-0.09L-0.17,1L0.17,1L0.17,-0.09ZM0.014,0.192L0.89,-0.356L0.71,-0.644L-0.166,-0.097ZM0.166,-0.097L-0.71,-0.644L-0.89,-0.356L-0.014,0.192Z", "M0.17,0.09L0.17,-1L-0.17,-1L-0.17,0.09ZM-0.014,-0.192L-0.89,0.356L-0.71,0.644L0.166,0.097ZM-0.166,0.097L0.71,0.644L0.89,0.356L0.014,-0.192Z", "M0.09,-0.17L-1,-0.17L-1,0.17L0.09,0.17ZM-0.192,0.014L0.356,0.89L0.644,0.71L0.097,-0.166ZM0.097,0.166L0.644,-0.71L0.356,-0.89L-0.192,-0.014Z", "M-0.09,0.17L1,0.17L1,-0.17L-0.09,-0.17ZM0.192,-0.014L-0.356,-0.89L-0.644,-0.71L-0.097,0.166ZM-0.097,-0.166L-0.644,0.71L-0.356,0.89L0.192,0.014Z", "M0.878,-0.364L0.364,-0.878L-0.364,-0.878L-0.878,-0.364L-0.878,0.364L-0.364,0.878L0.364,0.878L0.878,0.364Z", "M-0.85,-0.85L0.85,-0.85L0.85,0.85L-0.85,0.85Z", "M0,-1L0.951,-0.309L0.588,0.809L-0.588,0.809L-0.951,-0.309Z", "M0,-0.85L0.191,-0.263L0.808,-0.263L0.309,0.1L0.5,0.688L0,0.325L-0.5,0.688L-0.309,0.1L-0.808,-0.263L-0.191,-0.263Z"]}},
           "fill": {"field": "series", "type": "nominal", "scale": {"domain": ["<ANT>/XX or/CC <ANT>/XX ,/,", "from/IN <ANT>/XX to/TO <ANT>/XX", "<ANT>/XX and/CC <ANT>/XX", "<ANT>/XX or/CC <ANT>/XX ./.", "<ANT>/XX ,/, <ANT>/XX", "to/TO <ANT>/XX and/CC <ANT>/XX", ",/, <ANT>/XX and/CC <ANT>/XX", "of/IN <ANT>/XX and/CC <ANT>/XX", "<ANT>/XX and/CC <ANT>/XX ,/,", "both/DT <ANT>/XX and/CC <ANT>/XX", "<ANT>/XX and/CC <ANT>/XX ./.", "<ANT>/XX of/IN the/DT <ANT>/XX", "between/IN <ANT>/XX and/CC <ANT>/XX", "<ANT>/XX or/CC <ANT>/XX", "either/DT <ANT>/XX or/CC <ANT>/XX"], "range": ["#4C72B0", "#55A868", "#C44E52", "#8172B2", "#CCB974", "#64B5CD", "#4C72B0", "#55A868", "#C44E52", "#8172B2", "#CCB974", "#64B5CD", "#4C72B0", "#55A868", "#C44E52"]}},
           "stroke": {"field": "series", "type": "nominal", "scale": {"domain": ["<ANT>/XX or/CC <ANT>/XX ,/,", "from/IN <ANT>/XX to/TO <ANT>/XX", "<ANT>/XX and/CC <ANT>/XX", "<ANT>/XX or/CC <ANT>/XX ./.", "<ANT>/XX ,/, <ANT>/XX", "to/TO <ANT>/XX and/CC <ANT>/XX", ",/, <ANT>/XX and/CC <ANT>/XX", "of/IN <ANT>/XX and/CC <ANT>/XX", "<ANT>/XX and/CC <ANT>/XX ,/,", "both/DT <ANT>/XX and/CC <ANT>/XX", "<ANT>/XX and/CC <ANT>/XX ./.", "<ANT>/XX of/IN the/DT <ANT>/XX", "between/IN <ANT>/XX and/CC <ANT>/XX", "<ANT>/XX or/CC <ANT>/XX", "either/DT <ANT>/XX or/CC <ANT>/XX"], "range": ["#222222", "transparent", "#222222", "#222222", "#222222", "#222222", "#222222", "transparent", "transparent", "transparent", "transparent", "#222222", "#222222", "#222222", "#222222"]}}
         }},
        {"data": {"values": [{"x0": 0.85, "x1": 1.0, "y0": 0.15, "y1": 0.45}]},
         "mark": {"type": "rect", "filled": false, "stroke": "#808080", "strokeWidth": 2},
         "encoding": {
           "x": {"field": "x0", "type": "quantitative", "scale": {"domain": [0.84125, 1.21625], "nice": false, "zero": false}, "axis": null},
           "x2": {"field": "x1"},
           "y": {"field": "y0", "type": "quantitative", "scale": {"domain": [0.139375, 0.514375], "nice": false, "zero": false}, "axis": null},
           "y2": {"field": "y1"}
         }},
        {"data": {"values": [{"x": -0.072, "y": 0.894, "x2": 0.85, "y2": 0.45}, {"x": 0.408, "y": -0.066, "x2": 1.0, "y2": 0.15}]},
         "mark": {"type": "rule", "color": "#808080", "strokeWidth": 1},
         "encoding": {
           "x": {"field": "x", "type": "quantitative", "scale": {"domain": [-0.1, 1.1], "nice": false, "zero": false}, "axis": null},
           "y": {"field": "y", "type": "quantitative", "scale": {"domain": [-0.1, 1.1], "nice": false, "zero": false}, "axis": null},
           "x2": {"field": "x2"},
           "y2": {"field": "y2"}
         }}
      ]
    }
  ]
}
